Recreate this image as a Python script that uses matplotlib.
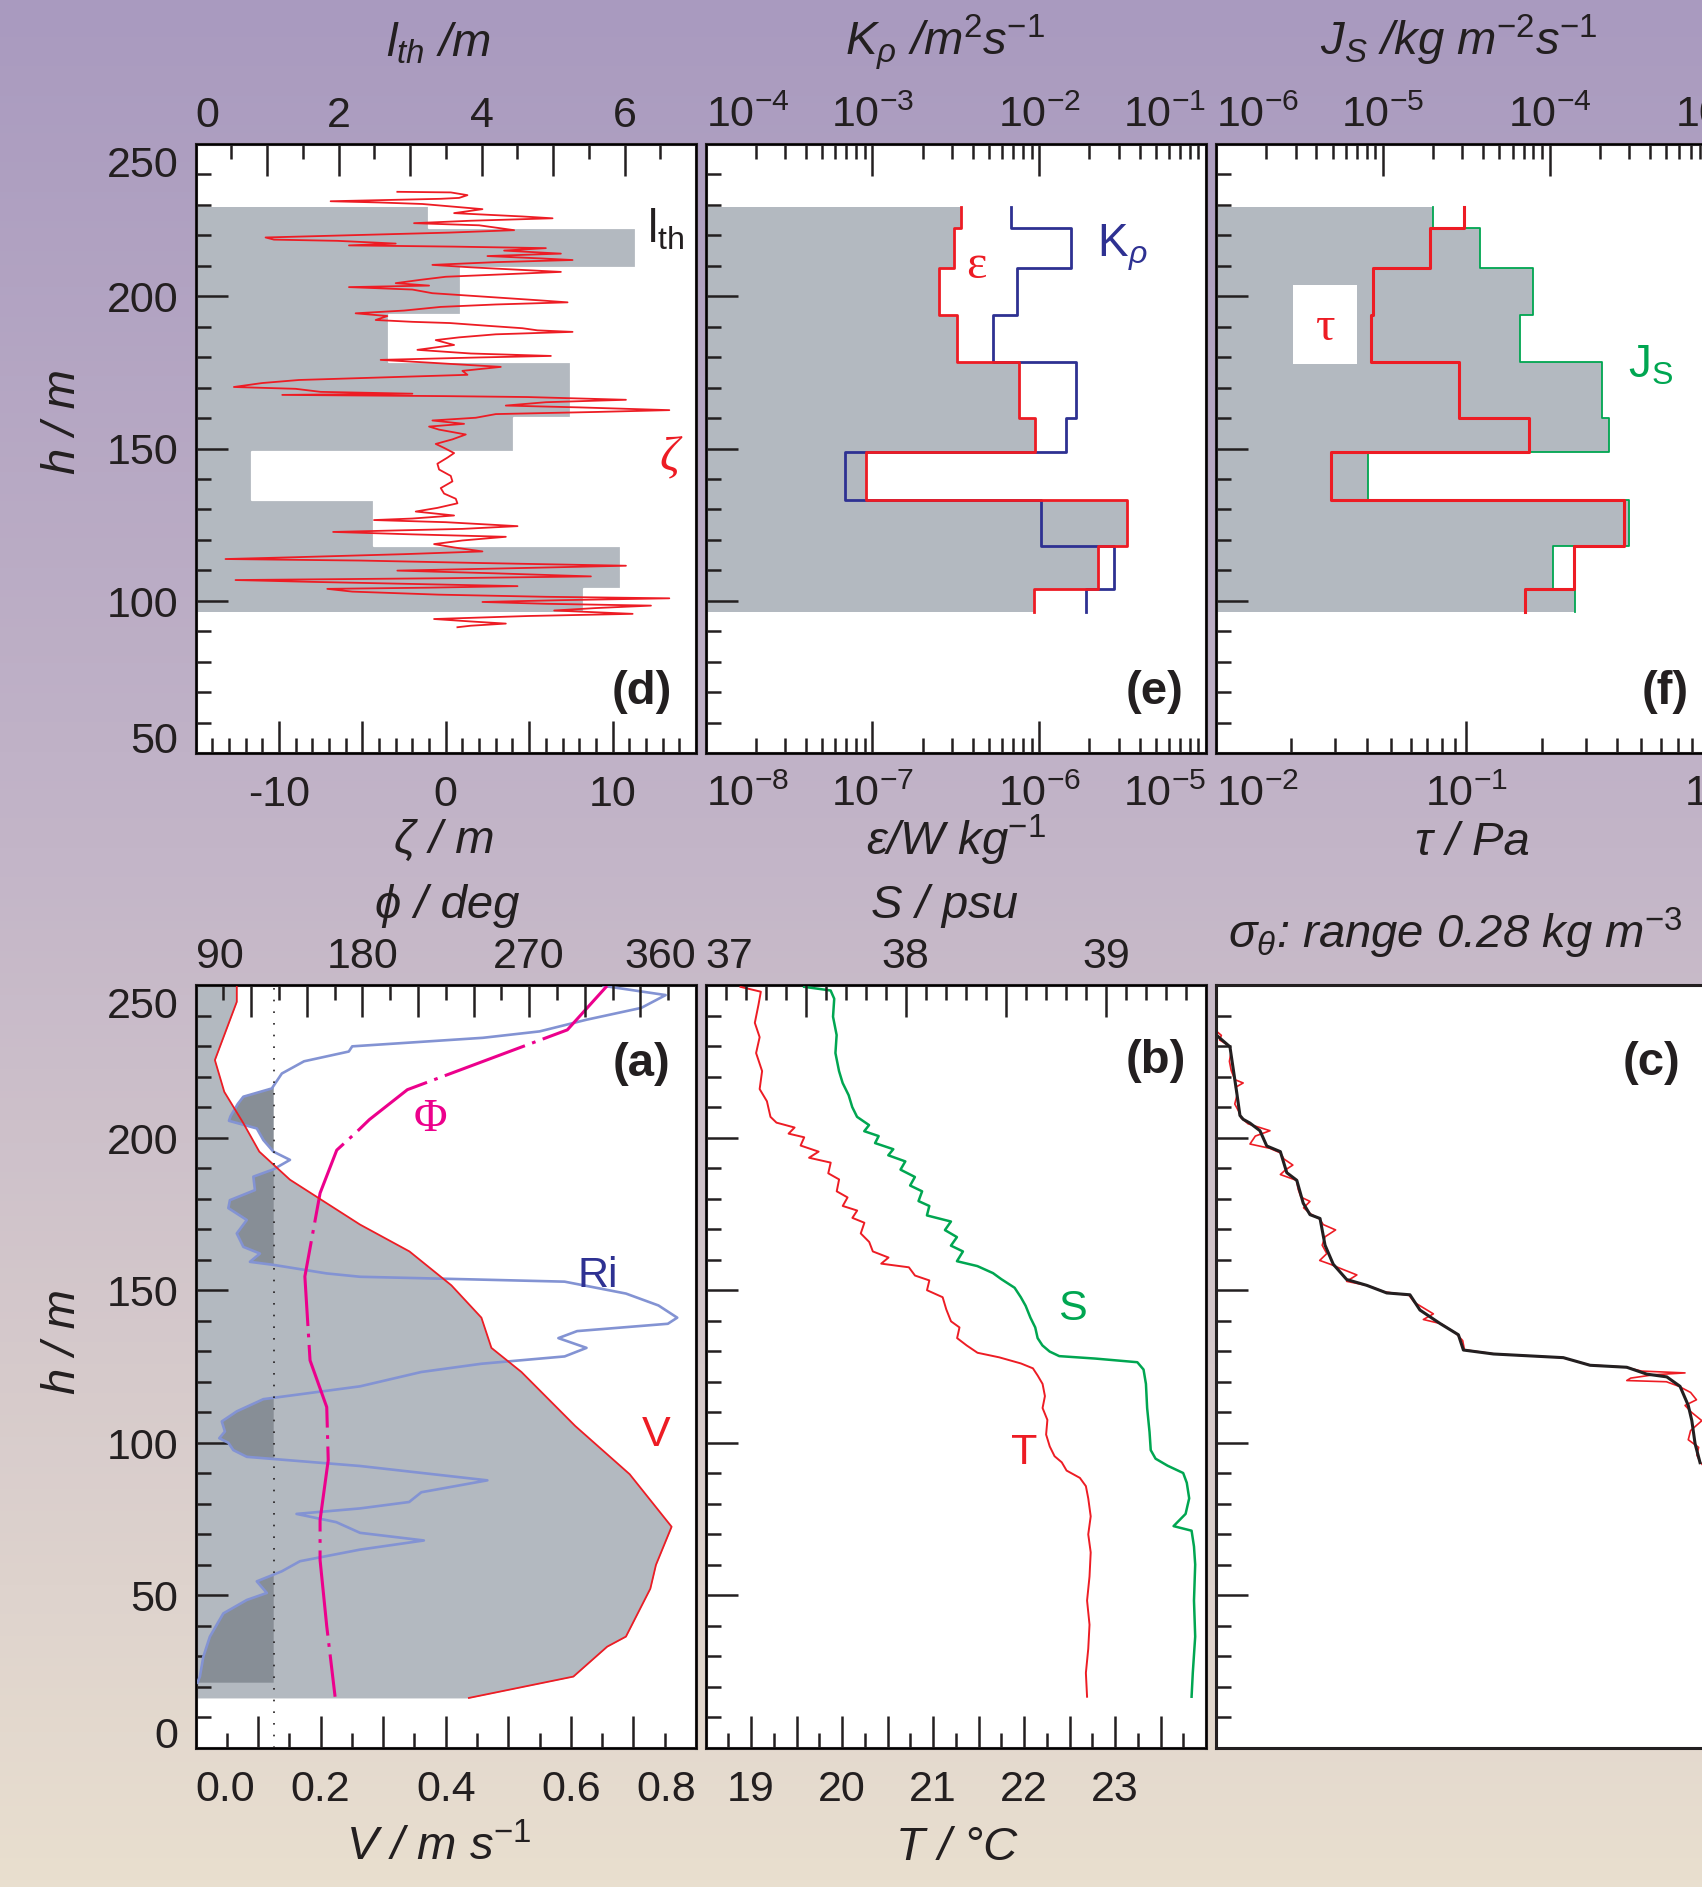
import numpy as np
import matplotlib
matplotlib.use("Agg")
import matplotlib.pyplot as plt
import matplotlib.transforms as mtransforms
from matplotlib.ticker import MultipleLocator, LogLocator, NullLocator
from matplotlib.patches import Rectangle
from matplotlib.colors import LinearSegmentedColormap

# ------------------------------------------------------------------ data
# overturn bins (h / m), shared by panels d, e, f
bin_edges = [229.3, 222.5, 209.2, 194.0, 178.5, 160.0, 149.0, 133.0, 118.0, 103.8, 96.3]
lth = [3.27, 6.16, 3.72, 2.71, 5.25, 4.45, 0.79, 2.50, 5.95, 5.43]
eps = [3.4e-7, 3.1e-7, 2.5e-7, 3.2e-7, 7.6e-7, 9.5e-7, 9.1e-8, 3.35e-6, 2.25e-6, 9.3e-7]
krho = [6.8e-3, 1.55e-2, 7.4e-3, 5.3e-3, 1.66e-2, 1.44e-2, 6.9e-4, 1.03e-2, 2.8e-2, 1.9e-2]
js = [2.0e-5, 3.8e-5, 8.0e-5, 6.6e-5, 2.07e-4, 2.27e-4, 8.2e-6, 2.98e-4, 1.05e-4, 1.41e-4]
tau = [0.098, 0.0715, 0.0424, 0.0415, 0.0935, 0.1775, 0.0289, 0.426, 0.270, 0.172]

# Thorpe displacement zeta (h, zeta)
zeta_pts = [
    (234.3, -2.9), (234.1, 0.3), (233.2, 1.3), (232.3, 0.8), (232.0, -0.3), (231.2, -6.9), (230.8, -4.0),
    (230.3, -1.4), (228.6, 2.2), (227.3, 0.5), (226.2, 4.6), (225.6, 6.4), (224.8, 1.5), (224.0, -1.9),
    (223.3, 2.0), (221.7, 4.1), (220.9, 0.2), (219.3, -10.8), (218.6, -10.3), (218.2, -6.5), (217.3, -3.0),
    (216.7, -5.8), (216.3, 0.5), (215.8, 6.0), (215.0, 3.5), (214.0, 6.9), (213.2, 2.5), (212.4, 5.8),
    (211.9, 7.6), (211.2, 3.0), (210.3, -0.8), (209.5, 1.5), (208.0, 6.9), (207.2, 3.5), (206.4, 0.0),
    (205.4, -1.5), (204.3, -3.0), (203.5, -1.0), (203.0, -5.8), (202.2, -2.0), (201.0, -0.8), (199.8, 2.5),
    (198.7, 5.5), (198.0, 7.3), (197.3, 3.0), (196.5, -0.3), (195.3, -2.5), (194.4, -5.4), (193.5, -3.5),
    (192.2, -4.2), (191.6, -2.0), (191.2, 0.25), (190.3, 2.5), (189.5, 4.6), (188.8, 5.5), (188.3, 7.6),
    (187.5, 3.0), (186.5, 0.8), (185.6, -0.6), (184.0, 0.5), (182.4, -1.7), (181.2, 1.5), (180.4, 6.3),
    (179.9, 2.0), (179.1, -3.9), (178.2, -1.0), (176.8, 3.3), (175.5, 1.0), (174.2, 1.3), (173.4, -3.5),
    (172.5, -8.8), (171.5, -11.0), (170.2, -12.7), (169.6, -9.0), (168.6, -7.5), (168.0, -2.0),
    (167.6, -9.8), (167.2, 0.0), (166.9, 4.9), (166.0, 10.8), (165.2, 6.0), (164.1, 3.6), (163.5, 8.0),
    (162.6, 13.4), (162.0, 9.0), (161.3, 3.0), (160.1, 1.8), (159.2, -0.8), (158.1, 1.1), (157.2, -1.0),
    (156.2, -0.4), (154.6, 1.2), (153.0, 0.4), (151.5, -0.6), (150.2, -0.1), (148.5, 0.5), (147.0, 0.1),
    (145.0, -0.5), (143.1, -0.4), (141.0, 0.3), (139.2, 0.4), (137.0, -0.3), (135.2, -0.1), (133.5, 0.6),
    (132.0, 0.7), (130.5, -0.5), (129.3, -1.8), (128.0, 0.5), (127.0, -2.0), (126.5, -4.3), (125.8, 0.0),
    (124.5, 4.3), (123.6, 1.0), (122.6, -6.75), (121.8, -2.0), (121.0, 3.6), (119.8, 1.0), (118.6, -0.7),
    (117.5, 0.5), (116.2, 2.2), (115.3, -2.5), (114.3, -9.0), (113.7, -13.2), (113.2, -5.1), (112.4, 2.0),
    (111.5, 10.8), (110.8, 5.0), (109.9, -2.9), (109.0, 3.0), (108.0, 8.7), (107.4, 0.0), (106.8, -12.6),
    (106.2, -8.0), (105.5, -2.0), (104.8, 4.3), (104.3, -1.0), (103.9, -7.1), (103.0, -5.6), (102.0, -0.4),
    (101.3, 6.0), (100.8, 13.4), (100.2, 7.0), (99.6, 2.2), (99.0, 6.0), (98.4, 12.3), (97.6, 9.0),
    (96.8, 6.5), (96.2, 9.0), (95.7, 11.2), (95.0, 5.0), (94.0, -0.7), (93.2, 1.5), (92.5, 3.6),
    (91.8, 1.5), (91.3, 0.7)]

# panel a: speed V, direction phi, Richardson number Ri
h_V = [250, 244.5, 225.4, 215.0, 204.9, 195.4, 186.2, 171.5, 162.7, 151.6, 141.0, 131.1, 123.2,
       105.5, 89.7, 72.5, 60.0, 52.2, 36.5, 33.2, 23.4, 16.4]
V = [0.066, 0.066, 0.031, 0.046, 0.076, 0.102, 0.151, 0.263, 0.342, 0.409, 0.457, 0.473, 0.521,
     0.607, 0.694, 0.761, 0.736, 0.727, 0.688, 0.658, 0.604, 0.437]
h_phi = [249.7, 235.3, 215.7, 205.9, 201.9, 195.9, 181.8, 154.5, 127.0, 111.7, 94.3, 74.7, 61.6, 39.9, 16.8]
phi = [312, 290.6, 204.3, 183.8, 177.0, 166.2, 157.2, 149.0, 151.8, 160.8, 161.6, 157.2, 157.2, 160.8, 165.3]
ri_pts = [
    (249.7, 1.305), (246.7, 1.503), (242.5, 1.425), (238.6, 1.249), (234.8, 1.10), (232.7, 0.919),
    (229.9, 0.501), (228.2, 0.49), (225.0, 0.347), (221.0, 0.276), (216.1, 0.244), (213.4, 0.153),
    (211.0, 0.135), (207.0, 0.112), (205.5, 0.107), (203.0, 0.196), (199.2, 0.217), (195.4, 0.249),
    (192.7, 0.302), (189.6, 0.249), (187.2, 0.185), (182.8, 0.19), (179.5, 0.11), (176.9, 0.105),
    (173.0, 0.164), (168.6, 0.132), (164.2, 0.153), (162.0, 0.206), (159.3, 0.174), (158.3, 0.249),
    (155.5, 0.419), (154.4, 0.526), (153.5, 0.90), (152.8, 1.18), (148.9, 1.376), (145.0, 1.48),
    (141.0, 1.54), (139.0, 1.51), (136.6, 1.22), (134.3, 1.16), (131.1, 1.25), (128.3, 1.18),
    (125.9, 0.914), (123.2, 0.722), (118.5, 0.526), (114.3, 0.217), (110.3, 0.132), (107.0, 0.084),
    (103.7, 0.094), (101.5, 0.076), (100.0, 0.105), (97.6, 0.121), (95.4, 0.164), (92.4, 0.526),
    (87.7, 0.933), (83.8, 0.722), (80.6, 0.683), (78.5, 0.526), (76.7, 0.323), (74.0, 0.45),
    (70.5, 0.526), (68.0, 0.73), (65.0, 0.526), (61.2, 0.334), (57.9, 0.276), (54.6, 0.196),
    (50.8, 0.228), (48.5, 0.164), (44.1, 0.089), (36.5, 0.046), (29.9, 0.025), (23.4, 0.014),
    (21.4, 0.006)]
ri_crit = 0.25

# panel b: temperature T (deg C) and salinity S (psu) versus h
t_pts = [
    (249.4, 18.884), (247.8, 19.108), (243.5, 19.082), (237.6, 19.042), (232.9, 19.095), (227.7, 19.056),
    (221.8, 19.122), (215.9, 19.095), (211.9, 19.175), (206.8, 19.214), (204.9, 19.280), (203.3, 19.479),
    (201.3, 19.413), (200.1, 19.585), (197.4, 19.545), (195.4, 19.743), (193.4, 19.638), (191.8, 19.876),
    (188.3, 19.849), (186.3, 19.968), (182.4, 19.942), (180.4, 20.061), (177.6, 20.008), (176.1, 20.167),
    (173.7, 20.114), (172.1, 20.246), (168.6, 20.206), (165.8, 20.299), (162.7, 20.339), (160.7, 20.511),
    (158.7, 20.431), (157.5, 20.735), (154.8, 20.802), (153.2, 20.960), (150.0, 20.934), (147.7, 21.106),
    (143.7, 21.146), (139.8, 21.198), (137.8, 21.291), (134.3, 21.265), (131.9, 21.370), (129.5, 21.489),
    (128.0, 21.728), (126.0, 21.966), (124.4, 22.098), (122.0, 22.151), (119.3, 22.204), (115.3, 22.230),
    (111.4, 22.204), (107.5, 22.257), (102.7, 22.243), (98.8, 22.283), (95.6, 22.336), (93.6, 22.415),
    (90.9, 22.468), (88.5, 22.614), (85.8, 22.680), (81.8, 22.706), (75.9, 22.733), (70.0, 22.706),
    (64.1, 22.733), (56.2, 22.720), (48.3, 22.693), (40.4, 22.720), (32.5, 22.706), (24.6, 22.680),
    (16.8, 22.693)]
s_pts = [
    (249.4, 37.493), (248.2, 37.625), (245.5, 37.643), (239.6, 37.637), (233.6, 37.655), (227.7, 37.649),
    (221.8, 37.667), (217.9, 37.685), (213.9, 37.715), (210.0, 37.733), (206.8, 37.757), (204.1, 37.817),
    (202.1, 37.793), (200.5, 37.865), (198.2, 37.847), (196.2, 37.938), (194.2, 37.913), (192.2, 37.998),
    (189.5, 37.974), (187.1, 38.046), (184.3, 38.022), (182.4, 38.082), (179.2, 38.064), (177.6, 38.118),
    (174.5, 38.106), (172.5, 38.226), (169.7, 38.196), (167.4, 38.256), (164.6, 38.226), (162.7, 38.286),
    (159.5, 38.256), (157.9, 38.358), (155.6, 38.436), (153.6, 38.478), (150.8, 38.544), (147.7, 38.575),
    (144.9, 38.599), (141.0, 38.623), (137.8, 38.647), (134.3, 38.659), (131.9, 38.683), (129.9, 38.719),
    (128.4, 38.767), (127.6, 38.947), (126.4, 39.157), (124.0, 39.188), (119.3, 39.200), (111.4, 39.206),
    (103.5, 39.218), (97.6, 39.224), (94.8, 39.248), (92.5, 39.308), (90.1, 39.386), (86.9, 39.404),
    (81.8, 39.416), (76.7, 39.398), (72.7, 39.338), (71.2, 39.428), (66.0, 39.440), (60.1, 39.446),
    (48.3, 39.440), (36.5, 39.446), (24.6, 39.434), (16.8, 39.428)]

# panel c: potential density anomaly (kg m-3), sorted/smoothed (black) and raw (red)
sig_smooth = [
    (233.5, 0.0004), (229.75, 0.0078), (214.75, 0.0116), (207.25, 0.0134), (206.0, 0.0152), (204.75, 0.019),
    (202.25, 0.0246), (197.25, 0.0284), (195.4, 0.036), (188.5, 0.0396), (186.0, 0.0452), (178.5, 0.0488),
    (174.75, 0.0526), (173.5, 0.0582), (164.75, 0.061), (158.5, 0.0656), (153.5, 0.0731), (151.6, 0.0843),
    (149.1, 0.0955), (148.5, 0.1085), (143.5, 0.1141), (139.1, 0.1253), (135.4, 0.1356), (130.4, 0.1384),
    (129.1, 0.1552), (127.9, 0.1943), (125.4, 0.2093), (124.75, 0.2298), (122.5, 0.2410), (121.6, 0.2522),
    (118.5, 0.2596), (112.25, 0.2642), (107.25, 0.2662), (99.75, 0.2680), (93.5, 0.2708)]
sig_raw = [
    (235.5, -0.002), (234.5, 0.001), (233.5, 0.003), (232.0, 0.002), (230.0, 0.0075), (228.0, 0.0084),
    (225.0, 0.0075), (222.0, 0.0085), (219.0, 0.0105), (217.9, 0.0152), (216.5, 0.011), (214.0, 0.0118),
    (211.0, 0.0105), (208.5, 0.0128), (206.5, 0.014), (204.5, 0.018), (202.25, 0.0302), (200.5, 0.022),
    (197.9, 0.019), (196.5, 0.030), (195.0, 0.036), (193.0, 0.038), (191.0, 0.043), (189.5, 0.039),
    (187.9, 0.036), (186.0, 0.045), (183.0, 0.046), (180.5, 0.0475), (179.1, 0.0526), (177.0, 0.049),
    (175.0, 0.053), (173.3, 0.058), (171.5, 0.060), (169.75, 0.0669), (167.5, 0.061), (164.75, 0.0594),
    (162.0, 0.062), (159.75, 0.058), (158.5, 0.064), (157.25, 0.0691), (155.0, 0.0788), (152.9, 0.0731),
    (151.5, 0.085), (149.5, 0.094), (148.3, 0.108), (146.0, 0.111), (142.25, 0.1216), (140.4, 0.116),
    (139.0, 0.126), (136.0, 0.134), (133.5, 0.138), (130.5, 0.139), (129.1, 0.156), (127.9, 0.194),
    (125.5, 0.209), (124.8, 0.229), (123.5, 0.238), (122.9, 0.2624), (122.3, 0.245), (121.2, 0.232),
    (120.4, 0.2298), (120.0, 0.252), (118.5, 0.259), (116.5, 0.2655), (114.1, 0.2688), (112.25, 0.2624),
    (110.0, 0.266), (107.25, 0.2718), (104.0, 0.2655), (101.0, 0.2642), (98.5, 0.270), (96.0, 0.2690),
    (93.5, 0.271), (92.0, 0.2735)]

# ------------------------------------------------------------------ style
W, H, DPI = 1702, 1887, 100
INK = '#231f20'
RED = '#ed1c24'
BLUE = '#2e3192'
GREEN = '#00a651'
MAG = '#ec008c'
RIB = '#8393d3'
GRAY = '#b3b9c0'
DARK = '#878e96'

plt.rcParams['font.family'] = ['Liberation Sans', 'DejaVu Sans']
plt.rcParams['mathtext.fontset'] = 'custom'
plt.rcParams['mathtext.rm'] = 'Liberation Sans'
plt.rcParams['mathtext.it'] = 'Liberation Sans:italic'
plt.rcParams['mathtext.bf'] = 'Liberation Sans:bold'
plt.rcParams['mathtext.sf'] = 'Liberation Sans'
plt.rcParams['text.color'] = INK

TICK_FS = 31
TITLE_FS = 34
LAB_FS = 31

fig = plt.figure(figsize=(W / DPI, H / DPI), dpi=DPI)

bg = fig.add_axes([0, 0, 1, 1], zorder=-10)
cmap = LinearSegmentedColormap.from_list('bg', [(0, '#a99abf'), (0.45, '#c3b5c8'), (1, '#e9dfcf')])
bg.imshow(np.linspace(0, 1, 256).reshape(-1, 1), aspect='auto', cmap=cmap, extent=[0, 1, 0, 1])
bg.set_axis_off()


def steps(edges, vals):
    hs, xs = [], []
    for i, v in enumerate(vals):
        hs += [edges[i], edges[i + 1]]
        xs += [v, v]
    return np.array(xs), np.array(hs)


def make_panel(x0, x1, y0, y1, ylim):
    ax = fig.add_axes([x0 / W, 1 - y1 / H, (x1 - x0) / W, (y1 - y0) / H])
    ax.set_facecolor('white')
    for s in ax.spines.values():
        s.set_linewidth(2.2)
        s.set_color(INK)
    ax.set_ylim(*ylim)
    ax.yaxis.set_major_locator(MultipleLocator(50))
    ax.yaxis.set_minor_locator(MultipleLocator(10))
    ax.tick_params(axis='y', which='major', direction='in', length=23, width=1.8, color=INK,
                   left=True, right=False, labelleft=False)
    ax.tick_params(axis='y', which='minor', direction='in', length=11, width=1.8, color=INK,
                   left=True, right=False)
    return ax


def xticks(ax, where, major=None, minor=None, log=False, none=False):
    if none:
        ax.xaxis.set_major_locator(NullLocator())
        ax.xaxis.set_minor_locator(NullLocator())
    elif log:
        ax.xaxis.set_major_locator(LogLocator(base=10, numticks=20))
        ax.xaxis.set_minor_locator(LogLocator(base=10, subs=np.arange(2, 10), numticks=20))
    else:
        ax.xaxis.set_major_locator(MultipleLocator(major))
        ax.xaxis.set_minor_locator(MultipleLocator(minor))
    kw = dict(direction='in', color=INK, top=(where == 'top'), bottom=(where == 'bottom'),
              labeltop=False, labelbottom=False)
    ax.tick_params(axis='x', which='major', length=23, width=1.8, **kw)
    ax.tick_params(axis='x', which='minor', length=11, width=1.8, **kw)


def xlabels(ax, vals, labels, side, has=None):
    for i, (v, l) in enumerate(zip(vals, labels)):
        ha = has[i] if has else 'center'
        if side == 'top':
            off = mtransforms.ScaledTranslation(0, 17 / DPI, fig.dpi_scale_trans)
            y = 1
        else:
            off = mtransforms.ScaledTranslation(0, -53 / DPI, fig.dpi_scale_trans)
            y = 0
        ax.text(v, y, l, transform=ax.get_xaxis_transform() + off, ha=ha, va='baseline',
                fontsize=TICK_FS, clip_on=False)


def ylabels(ax, vals, top, bottom):
    for v in vals:
        dy = -16
        if v == top:
            dy = -33
        elif v == bottom:
            dy = 0
        off = mtransforms.ScaledTranslation(-17 / DPI, dy / DPI, fig.dpi_scale_trans)
        ax.text(0, v, str(v), transform=ax.get_yaxis_transform() + off, ha='right', va='baseline',
                fontsize=TICK_FS, clip_on=False)


def ftext(x, y, s, **kw):
    fig.text(x / W, 1 - y / H, s, **kw)


COLS = [(195.5, 696.0), (705.5, 1206.0), (1216.0, 1716.5)]
TOP = (144, 753)
BOT = (985, 1748)

# ------------------------------------------------------------------ panel d
ax_d = make_panel(*COLS[0], *TOP, (50, 250))
ax_dt = ax_d.twiny()
ax_d.set_xlim(-15, 15)
ax_dt.set_xlim(0, 7)
xs, hs = steps(bin_edges, lth)
ax_d.fill_betweenx(hs, 0, xs, color=GRAY, lw=0, transform=ax_dt.transData, zorder=1)
ax_d.plot(xs, hs, color='white', lw=1.6, transform=ax_dt.transData, zorder=2)
zh = [p[0] for p in zeta_pts]
zv = [p[1] for p in zeta_pts]
ax_d.plot(zv, zh, color=RED, lw=1.3, zorder=3)
ax_d.set_xlim(-15, 15)
ax_d.set_ylim(50, 250)
xticks(ax_d, 'bottom', 5, 1)
xticks(ax_dt, 'top', 1, 0.5)
xlabels(ax_dt, [0, 2, 4, 6], ['0', '2', '4', '6'], 'top', ['left', 'center', 'center', 'center'])
xlabels(ax_d, [-10, 0, 10], ['-10', '0', '10'], 'bottom')
ylabels(ax_d, [50, 100, 150, 200, 250], 250, 50)
ax_d.text(0.902, 0.8375, r'$\mathrm{l_{th}}$', transform=ax_d.transAxes, fontsize=LAB_FS + 2, color=INK,
          ha='left', va='baseline')
ax_d.text(0.946, 0.486, 'ζ', transform=ax_d.transAxes, fontsize=LAB_FS + 4, color=RED, ha='center',
          va='center', family=['Liberation Serif', 'DejaVu Serif'], style='italic')
ax_d.text(0.891, 0.10, '(d)', transform=ax_d.transAxes, fontsize=34, fontweight='bold', ha='center',
          va='center')

# ------------------------------------------------------------------ panel e
ax_e = make_panel(*COLS[1], *TOP, (50, 250))
ax_et = ax_e.twiny()
ax_e.set_xscale('log')
ax_et.set_xscale('log')
ax_e.set_xlim(1e-8, 1e-5)
ax_et.set_xlim(1e-4, 1e-1)
xs, hs = steps(bin_edges, eps)
ax_e.fill_betweenx(hs, 1e-8, xs, color=GRAY, lw=0, zorder=1)
ax_e.plot(xs, hs, color=RED, lw=2.0, zorder=3)
xk, hk = steps(bin_edges, krho)
ax_e.plot(xk, hk, color=BLUE, lw=2.0, transform=ax_et.transData, zorder=2)
ax_e.set_xlim(1e-8, 1e-5)
ax_e.set_ylim(50, 250)
xticks(ax_e, 'bottom', log=True)
xticks(ax_et, 'top', log=True)
xlabels(ax_et, [1e-4, 1e-3, 1e-2, 1e-1], [r'$10^{-4}$', r'$10^{-3}$', r'$10^{-2}$', r'$10^{-1}$'], 'top',
        ['left', 'center', 'center', 'right'])
xlabels(ax_e, [1e-8, 1e-7, 1e-6, 1e-5], [r'$10^{-8}$', r'$10^{-7}$', r'$10^{-6}$', r'$10^{-5}$'], 'bottom',
        ['left', 'center', 'center', 'right'])
ax_e.text(0.542, 0.80, 'ε', transform=ax_e.transAxes, fontsize=LAB_FS + 4, color=RED, ha='center',
          va='center', family=['Liberation Serif', 'DejaVu Serif'])
ax_e.text(0.782, 0.8145, r'K$_\rho$', transform=ax_e.transAxes, fontsize=LAB_FS + 2, color=BLUE, ha='left',
          va='baseline')
ax_e.text(0.897, 0.10, '(e)', transform=ax_e.transAxes, fontsize=34, fontweight='bold', ha='center',
          va='center')

# ------------------------------------------------------------------ panel f
ax_f = make_panel(*COLS[2], *TOP, (50, 250))
ax_ft = ax_f.twiny()
ax_f.set_xscale('log')
ax_ft.set_xscale('log')
ax_f.set_xlim(1e-2, 1e0)
ax_ft.set_xlim(1e-6, 1e-3)
xj, hj = steps(bin_edges, js)
ax_f.fill_betweenx(hj, 1e-6, xj, color=GRAY, lw=0, transform=ax_ft.transData, zorder=1)
ax_f.plot(xj, hj, color=GREEN, lw=1.3, transform=ax_ft.transData, zorder=2)
xt, ht = steps(bin_edges, tau)
ax_f.plot(xt, ht, color=RED, lw=2.2, zorder=3)
ax_f.add_patch(Rectangle((0.1535, 0.638), 0.1276, 0.1305, transform=ax_f.transAxes, facecolor='white',
                         edgecolor='none', zorder=4))
ax_f.text(0.2186, 0.698, 'τ', transform=ax_f.transAxes, fontsize=LAB_FS + 4, color=RED, ha='center',
          va='center', family=['Liberation Serif', 'DejaVu Serif'], zorder=5)
ax_f.text(0.824, 0.616, r'J$_\mathrm{S}$', transform=ax_f.transAxes, fontsize=LAB_FS + 2, color=GREEN,
          ha='left', va='baseline')
ax_f.text(0.897, 0.10, '(f)', transform=ax_f.transAxes, fontsize=34, fontweight='bold', ha='center',
          va='center')
ax_f.set_xlim(1e-2, 1e0)
ax_f.set_ylim(50, 250)
xticks(ax_f, 'bottom', log=True)
xticks(ax_ft, 'top', log=True)
xlabels(ax_ft, [1e-6, 1e-5, 1e-4, 1e-3], [r'$10^{-6}$', r'$10^{-5}$', r'$10^{-4}$', r'$10^{-3}$'], 'top',
        ['left', 'center', 'center', 'center'])
xlabels(ax_f, [1e-2, 1e-1, 1e0], [r'$10^{-2}$', r'$10^{-1}$', r'$10^{0}$'], 'bottom',
        ['left', 'center', 'center'])

# ------------------------------------------------------------------ panel a
ax_a = make_panel(*COLS[0], *BOT, (0, 250))
ax_ar = ax_a.twiny()
ax_at = ax_a.twiny()
ax_a.set_xlim(0, 0.8)
ax_at.set_xlim(90, 360)
ax_ar.set_xlim(0, 1.6)
ax_a.fill_betweenx(h_V, 0, V, color=GRAY, lw=0, zorder=1)
rh = np.array([p[0] for p in ri_pts])
rv = np.array([p[1] for p in ri_pts])
ax_a.fill_betweenx(rh, rv, ri_crit, where=rv < ri_crit, interpolate=True, color=DARK, lw=0,
                   transform=ax_ar.transData, zorder=2)
ax_a.plot(rv, rh, color=RIB, lw=1.9, transform=ax_ar.transData, zorder=3)
ax_a.plot(phi, h_phi, color=MAG, lw=2.2, ls=(0, (28, 2.5, 1.2, 2.5)), transform=ax_at.transData, zorder=4)
ax_a.plot(V, h_V, color=RED, lw=1.3, zorder=5)
ax_ar.axvline(ri_crit, color=INK, lw=1.2, ls=(0, (1, 6)))
for s in ax_ar.spines.values():
    s.set_visible(False)
xticks(ax_ar, 'top', none=True)
ax_a.set_xlim(0, 0.8)
ax_a.set_ylim(0, 250)
xticks(ax_a, 'bottom', 0.1, 0.05)
xticks(ax_at, 'top', 30, 15)
xlabels(ax_at, [90, 180, 270, 360], ['90', '180', '270', '360'], 'top', ['left', 'center', 'center', 'right'])
xlabels(ax_a, [0.0, 0.2, 0.4, 0.6, 0.8], ['0.0', '0.2', '0.4', '0.6', '0.8'], 'bottom',
        ['left', 'center', 'center', 'center', 'right'])
ylabels(ax_a, [0, 50, 100, 150, 200, 250], 250, 0)
ax_a.text(0.47, 0.824, 'Φ', transform=ax_a.transAxes, fontsize=LAB_FS + 2, color=MAG, ha='center',
          va='center', family=['Liberation Serif', 'DejaVu Serif'])
ax_a.text(0.804, 0.619, 'Ri', transform=ax_a.transAxes, fontsize=LAB_FS, color=BLUE, ha='center', va='center')
ax_a.text(0.92, 0.41, 'V', transform=ax_a.transAxes, fontsize=LAB_FS, color=RED, ha='center', va='center')
ax_a.text(0.891, 0.897, '(a)', transform=ax_a.transAxes, fontsize=34, fontweight='bold', ha='center',
          va='center')

# ------------------------------------------------------------------ panel b
ax_b = make_panel(*COLS[1], *BOT, (0, 250))
ax_bt = ax_b.twiny()
ax_b.set_xlim(18.5, 24.0)
ax_bt.set_xlim(37.0, 39.5)
th = [p[0] for p in t_pts]
tv = [p[1] for p in t_pts]
sh = [p[0] for p in s_pts]
sv = [p[1] for p in s_pts]
ax_b.plot(tv, th, color=RED, lw=1.4, zorder=3)
ax_b.plot(sv, sh, color=GREEN, lw=1.8, transform=ax_bt.transData, zorder=3)
ax_b.set_xlim(18.5, 24.0)
ax_b.set_ylim(0, 250)
xticks(ax_b, 'bottom', 0.5, 0.25)
xticks(ax_bt, 'top', 0.5, 0.1)
xlabels(ax_bt, [37, 38, 39], ['37', '38', '39'], 'top', ['left', 'center', 'center'])
xlabels(ax_b, [19, 20, 21, 22, 23], ['19', '20', '21', '22', '23'], 'bottom')
ax_b.text(0.733, 0.575, 'S', transform=ax_b.transAxes, fontsize=LAB_FS, color=GREEN, ha='center', va='center')
ax_b.text(0.637, 0.387, 'T', transform=ax_b.transAxes, fontsize=LAB_FS, color=RED, ha='center', va='center')
ax_b.text(0.899, 0.90, '(b)', transform=ax_b.transAxes, fontsize=34, fontweight='bold', ha='center',
          va='center')

# ------------------------------------------------------------------ panel c
ax_c = make_panel(*COLS[2], *BOT, (0, 250))
ax_c.plot([p[1] for p in sig_raw], [p[0] for p in sig_raw], color=RED, lw=1.2, zorder=2)
ax_c.plot([p[1] for p in sig_smooth], [p[0] for p in sig_smooth], color=INK, lw=2.2, zorder=3)
ax_c.set_xlim(0, 0.28)
ax_c.set_ylim(0, 250)
xticks(ax_c, 'bottom', none=True)
ax_c.text(0.87, 0.898, '(c)', transform=ax_c.transAxes, fontsize=34, fontweight='bold', ha='center',
          va='center')

# ------------------------------------------------------------------ axis titles
tkw = dict(fontsize=TITLE_FS, style='italic', va='baseline')
ftext(438, 57, r'$l_{th}$ /m', ha='center', **tkw)
ftext(945, 55, r'K$_\rho$ /m$^2$s$^{-1}$', ha='center', **tkw)
ftext(1459, 55, r'J$_S$ /kg m$^{-2}$s$^{-1}$', ha='center', **tkw)
ftext(444, 853, 'ζ / m', ha='center', **tkw)
ftext(956, 855, r'ε/W kg$^{-1}$', ha='center', **tkw)
ftext(1472, 855, 'τ / Pa', ha='center', **tkw)
ftext(447, 918, 'ϕ / deg', ha='center', **tkw)
ftext(945, 918, 'S / psu', ha='center', **tkw)
ftext(1228, 948, r'σ$_\theta$: range 0.28 kg m$^{-3}$', ha='left', **tkw)
ftext(439, 1860, r'V / m s$^{-1}$', ha='center', **tkw)
ftext(957, 1860, 'T / °C', ha='center', **tkw)
ftext(63, 421, 'h / m', ha='center', va='center', rotation=90, fontsize=TITLE_FS, style='italic')
ftext(63, 1342, 'h / m', ha='center', va='center', rotation=90, fontsize=TITLE_FS, style='italic')

fig.savefig('out.png', dpi=DPI)
